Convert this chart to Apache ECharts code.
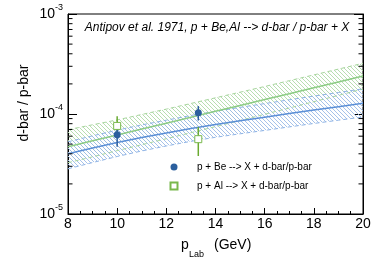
<!DOCTYPE html>
<html><head><meta charset="utf-8">
<script src="https://cdn.jsdelivr.net/npm/echarts@6/dist/echarts.min.js"></script>
<style>html,body{margin:0;padding:0;background:#fff}#c{width:382px;height:261px}</style>
</head><body><div id="c"></div>
<script>
// ---- data ----
const curveX = [8, 9, 10, 11, 12, 13, 14, 15, 16, 17, 18, 19, 20];
const beCentral = [4.0e-5, 4.57e-5, 5.19e-5, 5.82e-5, 6.46e-5, 7.16e-5, 7.85e-5, 8.55e-5, 9.29e-5, 1.009e-4, 1.094e-4, 1.183e-4, 1.279e-4];
const beUpper = [5.27e-5, 6.05e-5, 6.90e-5, 7.78e-5, 8.67e-5, 9.66e-5, 1.064e-4, 1.164e-4, 1.271e-4, 1.387e-4, 1.510e-4, 1.641e-4, 1.786e-4];
const beLower = [2.83e-5, 3.27e-5, 3.76e-5, 4.27e-5, 4.79e-5, 5.33e-5, 5.85e-5, 6.34e-5, 6.85e-5, 7.43e-5, 8.04e-5, 8.67e-5, 9.33e-5];
const alCentral = [4.71e-5, 5.4e-5, 6.18e-5, 7.08e-5, 8.1e-5, 9.29e-5, 1.064e-4, 1.217e-4, 1.394e-4, 1.596e-4, 1.828e-4, 2.09e-4, 2.4e-4];
const alUpper = [6.97e-5, 7.80e-5, 8.73e-5, 9.89e-5, 1.119e-4, 1.274e-4, 1.452e-4, 1.652e-4, 1.884e-4, 2.153e-4, 2.460e-4, 2.812e-4, 3.214e-4];
const alLower = [3.26e-5, 3.73e-5, 4.30e-5, 4.93e-5, 5.66e-5, 6.50e-5, 7.48e-5, 8.61e-5, 9.93e-5, 1.148e-4, 1.327e-4, 1.535e-4, 1.778e-4];

const beX = [10, 13.3];
const beY = [6.2e-5, 1.03e-4];
const beErr = [1.5e-5, 1.7e-5];
const alX = [10, 13.3];
const alY = [7.6e-5, 5.6e-5];
const alErr = [1.9e-5, 1.8e-5];

const xTickLabels = [8, 10, 12, 14, 16, 18, 20];
const yMinorTicks = [2e-5, 3e-5, 4e-5, 5e-5, 6e-5, 7e-5, 8e-5, 9e-5, 2e-4, 3e-4, 4e-4, 5e-4, 6e-4, 7e-4, 8e-4, 9e-4];

const beName = 'p + Be --> X + d-bar/p-bar';
const alName = 'p + Al --> X + d-bar/p-bar';
const titleText = 'Antipov et al. 1971, p + Be,Al --> d-bar / p-bar + X';

// ---- styles ----
const FONT = 'Liberation Sans, Arial, Helvetica, sans-serif';
const C_BE_MARK = '#2b5f9e';
const C_BE_LINE = '#5b8fd6';
const C_BE_DASH = '#8fb4e6';
const C_BE_HATCH = '#9cbbe6';
const C_AL_MARK = '#78b84c';
const C_AL_ERR = '#6aaa30';
const C_AL_LINE = '#8ccc84';
const C_AL_DASH = '#a8d69e';
const C_AL_HATCH = '#b0daa8';

function hatch(color) {
  const s = 4;
  const c = document.createElement('canvas');
  c.width = s; c.height = s;
  const ctx = c.getContext('2d');
  ctx.strokeStyle = color;
  ctx.lineWidth = 0.9;
  ctx.beginPath();
  ctx.moveTo(-1, -1); ctx.lineTo(s + 1, s + 1);
  ctx.moveTo(s - 1, -1); ctx.lineTo(s + 1, 1);
  ctx.moveTo(-1, s - 1); ctx.lineTo(1, s + 1);
  ctx.stroke();
  return c;
}

function bandSeries(upper, lower, color) {
  const img = hatch(color);
  return {
    type: 'custom', silent: true, z: 1,
    data: [[curveX[0], upper[0]]],
    renderItem: function (params, api) {
      const pts = [];
      for (let i = 0; i < curveX.length; i++) pts.push(api.coord([curveX[i], upper[i]]));
      for (let i = curveX.length - 1; i >= 0; i--) pts.push(api.coord([curveX[i], lower[i]]));
      return { type: 'polygon', shape: { points: pts }, style: { fill: { image: img, repeat: 'repeat' }, stroke: null } };
    }
  };
}

function lineSeries(vals, color, dashed) {
  return {
    type: 'line', silent: true, symbol: 'none', z: dashed ? 2 : 3,
    data: curveX.map((x, i) => [x, vals[i]]),
    lineStyle: { color: color, width: dashed ? 1 : 1.5, type: dashed ? [4, 3] : 'solid' }
  };
}

function errSeries(xs, ys, es, color) {
  return {
    type: 'custom', silent: true, z: 5,
    data: xs.map((x, i) => [x, ys[i], es[i]]),
    encode: { x: 0, y: 1 },
    renderItem: function (params, api) {
      const x = api.value(0), y = api.value(1), e = api.value(2);
      const a = api.coord([x, y - e]), b = api.coord([x, y + e]);
      return { type: 'line', shape: { x1: a[0], y1: a[1], x2: b[0], y2: b[1] }, style: { stroke: color, lineWidth: 1.5 } };
    }
  };
}

const minorTickSeries = {
  type: 'custom', silent: true, z: 10,
  data: yMinorTicks.map(v => [curveX[0], v]),
  encode: { x: 0, y: 1 },
  renderItem: function (params, api) {
    const v = api.value(1);
    const a = api.coord([8, v]), b = api.coord([20, v]);
    return {
      type: 'group', children: [
        { type: 'line', shape: { x1: a[0], y1: a[1], x2: a[0] + 4.5, y2: a[1] }, style: { stroke: '#000', lineWidth: 1 } },
        { type: 'line', shape: { x1: b[0] - 4.5, y1: b[1], x2: b[0], y2: b[1] }, style: { stroke: '#000', lineWidth: 1 } }
      ]
    };
  }
};

const yAxisBase = {
  type: 'log', logBase: 10, min: 1e-5, max: 1e-3,
  axisLine: { show: true, lineStyle: { color: '#000', width: 1 } },
  axisTick: { show: true, inside: true, length: 9, lineStyle: { color: '#000' } },
  splitLine: { show: false }
};

const chart = echarts.init(document.getElementById('c'), null, { renderer: 'canvas' });
chart.setOption({
  animation: false,
  backgroundColor: '#fff',
  grid: { left: 68, right: 19, top: 14, bottom: 47, show: true, borderColor: '#000', borderWidth: 1, backgroundColor: 'transparent' },
  xAxis: {
    type: 'value', min: 8, max: 20, interval: 2,
    axisLine: { lineStyle: { color: '#000', width: 1 } },
    axisTick: { inside: true, length: 6, lineStyle: { color: '#000' } },
    minorTick: { show: true, splitNumber: 4, length: 3, lineStyle: { color: '#000' } },
    splitLine: { show: false },
    axisLabel: {
      color: '#000', fontSize: 14, fontFamily: FONT, margin: 3,
      formatter: function (v) { return xTickLabels.indexOf(v) >= 0 ? String(v) : ''; }
    }
  },
  yAxis: [
    Object.assign({}, yAxisBase, {
      position: 'left',
      axisLabel: {
        margin: 5,
        formatter: function (v) {
          const e = Math.round(Math.log10(v));
          return '{b|10}{s|' + e + '}';
        },
        rich: {
          b: { fontSize: 14, fontFamily: FONT, color: '#000', verticalAlign: 'middle', lineHeight: 14 },
          s: { fontSize: 9, fontFamily: FONT, color: '#000', verticalAlign: 'middle', lineHeight: 9, padding: [0, 0, 12, 0] }
        }
      }
    }),
    Object.assign({}, yAxisBase, { position: 'right', axisLabel: { show: false } })
  ],
  legend: {
    orient: 'vertical', left: 169.5, top: 162, padding: 0,
    itemWidth: 7, itemHeight: 7, itemGap: 9,
    textStyle: { fontSize: 10, fontFamily: FONT, color: '#000', padding: [0, 0, 0, 14.5] },
    data: [beName, alName]
  },
  graphic: [
    { type: 'text', x: 217, y: 28, style: { text: titleText, font: 'italic 12px ' + FONT, fill: '#000', align: 'center', verticalAlign: 'middle' } },
    { type: 'text', x: 24, y: 103, rotation: Math.PI / 2, style: { text: 'd-bar / p-bar', font: '14px ' + FONT, fill: '#000', align: 'center', verticalAlign: 'middle' } },
    { type: 'text', x: 181, y: 245, style: { text: 'p', font: '14px ' + FONT, fill: '#000', align: 'left', verticalAlign: 'middle' } },
    { type: 'text', x: 189, y: 255, style: { text: 'Lab', font: '9px ' + FONT, fill: '#000', align: 'left', verticalAlign: 'middle' } },
    { type: 'text', x: 214, y: 245, style: { text: '(GeV)', font: '14px ' + FONT, fill: '#000', align: 'left', verticalAlign: 'middle' } }
  ],
  series: [
    bandSeries(alUpper, alLower, C_AL_HATCH),
    bandSeries(beUpper, beLower, C_BE_HATCH),
    lineSeries(alUpper, C_AL_DASH, true),
    lineSeries(alLower, C_AL_DASH, true),
    lineSeries(beUpper, C_BE_DASH, true),
    lineSeries(beLower, C_BE_DASH, true),
    lineSeries(alCentral, C_AL_LINE, false),
    lineSeries(beCentral, C_BE_LINE, false),
    errSeries(alX, alY, alErr, C_AL_ERR),
    errSeries(beX, beY, beErr, C_BE_MARK),
    {
      type: 'scatter', name: alName, z: 6,
      data: alX.map((x, i) => [x, alY[i]]),
      symbol: 'rect', symbolSize: 7,
      itemStyle: { color: '#fff', borderColor: C_AL_MARK, borderWidth: 1, opacity: 1 }
    },
    {
      type: 'scatter', name: beName, z: 7,
      data: beX.map((x, i) => [x, beY[i]]),
      symbol: 'circle', symbolSize: 7,
      itemStyle: { color: C_BE_MARK, opacity: 1 }
    },
    minorTickSeries
  ]
});
</script>
</body></html>
